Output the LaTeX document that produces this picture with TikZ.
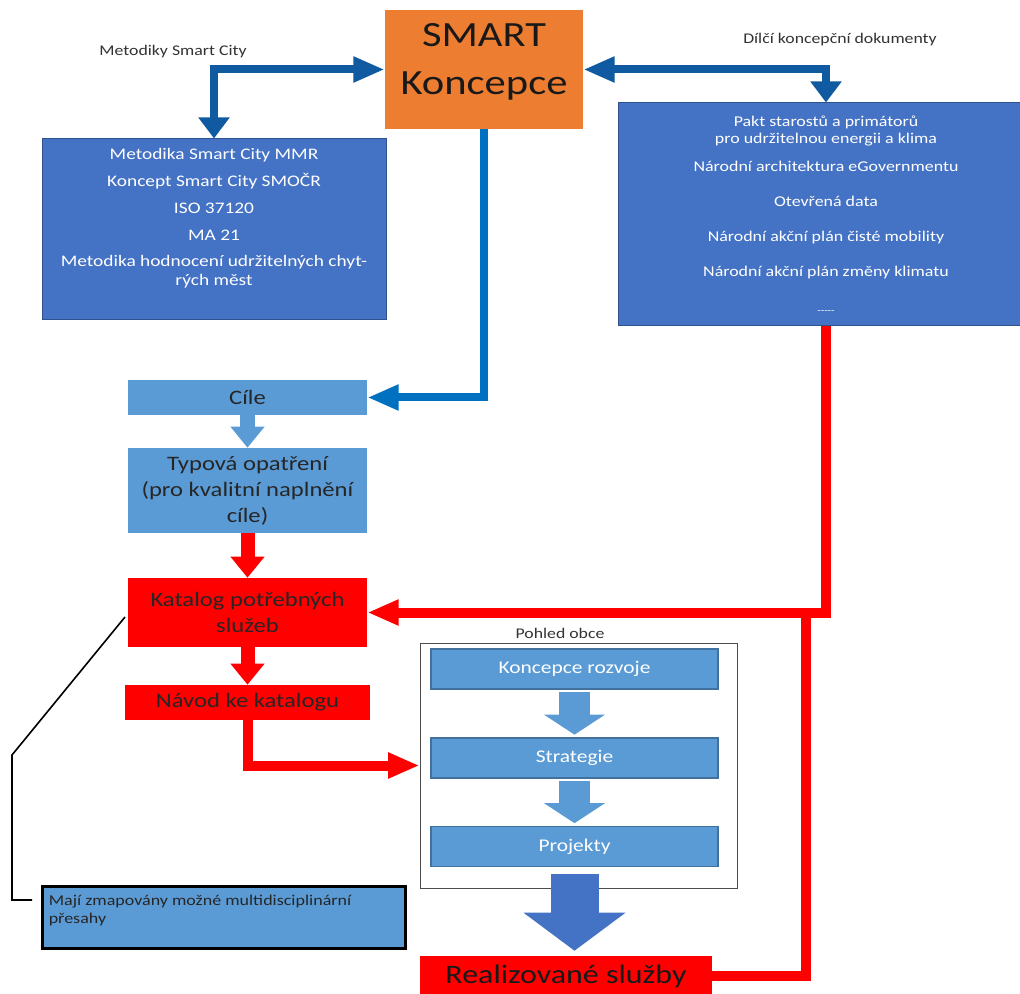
\documentclass[tikz,border=0pt]{standalone}
\usepackage{fontspec}
\setmainfont{Carlito}[FakeStretch=1.2]
\usetikzlibrary{positioning,arrows.meta}
\usepackage{xcolor}

\definecolor{smartorange}{HTML}{ED7D31}
\definecolor{docblue}{HTML}{4472C4}
\definecolor{docedge}{HTML}{2F528F}
\definecolor{stepblue}{HTML}{5B9BD5}
\definecolor{stepedge}{HTML}{41719C}
\definecolor{linkblue}{HTML}{0F5AA0}
\definecolor{goalblue}{HTML}{0070C0}
\definecolor{servred}{HTML}{FF0000}

\tikzset{
  fs/.style 2 args={font=\fontsize{#1}{#2}\selectfont},
  docbox/.style={draw=docedge, line width=0.75pt, fill=docblue, text=white},
  docText/.style={text=white, align=center, inner sep=0pt},
  stepbox/.style={fill=stepblue, text=black!85, fs={15.4}{19.5}, align=center, minimum width=179.25pt},
  redbox/.style={fill=servred, text=black!85, fs={15.4}{19.5}, align=center},
  viewbox/.style={draw=stepedge, line width=1pt, fill=stepblue, text=white, fs={13.4}{16}, minimum width=215.25pt, minimum height=30pt},
  sidelabel/.style={text=black!80, fs={11.1}{13}},
  doclink/.style={draw=linkblue, line width=6pt},
  goallink/.style={draw=goalblue, line width=6pt},
  redlink/.style={draw=servred, line width=7.5pt},
  hTip/.tip={Triangle[length=23.5pt,width=18pt]},
  vTip/.tip={Triangle[length=15.75pt,width=22.5pt]},
  blockTip/.tip={Triangle[length=15.75pt,width=24.5pt]},
  innerTip/.tip={Triangle[length=15pt,width=45pt]},
  bigTip/.tip={Triangle[length=28.5pt,width=75pt]}
}

\begin{document}
\begin{tikzpicture}[x=0.75pt, y=-0.75pt]
\path[use as bounding box, fill=white] (0,0) rectangle (1020,994);

\node[fill=smartorange, minimum width=148.5pt, minimum height=89.25pt] (smart) at (484,69.5) {};
\node[fs={26.6}{36}, align=center, text=black!90, inner sep=0pt] (smartText) at (484,62) {SMART\\Koncepce};

\node[docbox, minimum width=258pt, minimum height=135.75pt] (metodiky) at (214,229.5) {};
\node[docText, fs={12.1}{14.25}, below=7.5pt of metodiky.north] (metodikyText) {Metodika Smart City MMR\\[6pt]Koncept Smart City SMOČR\\[6pt]ISO 37120\\[6pt]MA 21\\[5.25pt]Metodika hodnocení udržitelných chyt-\\rých měst};

\node[docbox, fs={11.2}{12.75}, align=center, minimum width=312pt, minimum height=167.25pt] (dilci) at (826,214.5) {Pakt starostů a primátorů\\pro udržitelnou energii a klima\\[8.25pt]Národní architektura eGovernmentu\\[13.5pt]Otevřená data\\[13.5pt]Národní akční plán čisté mobility\\[13.5pt]Národní akční plán změny klimatu\\[15pt]{\fontsize{7}{8}\selectfont -{}-{}-{}-{}-}};

\node[sidelabel] (metodikyLabel) at (173,52) {Metodiky Smart City};
\node[sidelabel] (dilciLabel) at (840,40) {Dílčí koncepční dokumenty};

\node[stepbox, minimum height=26.25pt] (cile) at (247.5,397.5) {Cíle};
\node[stepbox, minimum height=63.75pt] (typova) at (247.5,490.5) {Typová opatření\\(pro kvalitní naplnění\\cíle)};
\node[redbox, minimum width=179.25pt, minimum height=51.75pt] (katalog) at (247.5,612.5) {Katalog potřebných\\služeb};
\node[redbox, minimum width=183.75pt, minimum height=26.25pt] (navod) at (247.5,702.5) {Návod ke katalogu};

\node[draw=black!70, line width=0.75pt, minimum width=237.75pt, minimum height=183.75pt] (pohled) at (578.5,765.5) {};
\node[sidelabel] (pohledLabel) at (560,633) {Pohled obce};
\node[viewbox] (rozvoj) at (574.5,669) {Koncepce rozvoje};
\node[viewbox] (strategie) at (574.5,758) {Strategie};
\node[viewbox] (projekty) at (574.5,846.5) {Projekty};

\node[fill=servred, text=black!90, fs={20}{24}, minimum width=219pt, minimum height=30pt] (realiz) at (566,976) {Realizované služby};

\node[draw=black, line width=2.25pt, fill=stepblue, minimum width=272.25pt, minimum height=46.5pt] (note) at (223.5,917) {};
\node[fs={11.25}{13.5}, text=black!85, align=left, inner sep=0pt, below right=7.5pt and 6pt of note.north west] (noteText) {Mají zmapovány možné multidisciplinární\\přesahy};

\draw[doclink, vTip-hTip] (metodiky.north) |- (smart.west);
\draw[doclink, hTip-vTip] (smart.east) -| (dilci.north);
\draw[goallink, -hTip] (smart.south) |- (cile.east);
\draw[stepblue, line width=11pt, -blockTip] (cile) -- (typova);
\draw[servred, line width=10.5pt, -blockTip] (typova) -- (katalog);
\draw[servred, line width=10.5pt, -blockTip] (katalog) -- (navod);
\draw[redlink, -hTip] (navod.south) |- (pohled.west);
\draw[redlink, -hTip] (dilci.south) |- (katalog.east);
\coordinate (branch) at (806,612.5);
\draw[redlink] (branch) |- (realiz.east);
\draw[stepblue, line width=23pt, -innerTip, shorten <=2pt, shorten >=2pt] (rozvoj) -- (strategie);
\draw[stepblue, line width=23pt, -innerTip, shorten <=2pt, shorten >=2pt] (strategie) -- (projekty);
\draw[docblue, line width=36pt, -bigTip, shorten <=5pt, shorten >=3.75pt] (projekty.south) -- (projekty.south |- realiz.north);

\coordinate (calloutA) at (125,617);
\coordinate (calloutB) at (12,755);
\coordinate (calloutC) at (12,900);
\coordinate (calloutD) at (32,900);
\draw[black, line width=1.2pt] (calloutA) -- (calloutB) -- (calloutC) -- (calloutD);
\end{tikzpicture}
\end{document}
